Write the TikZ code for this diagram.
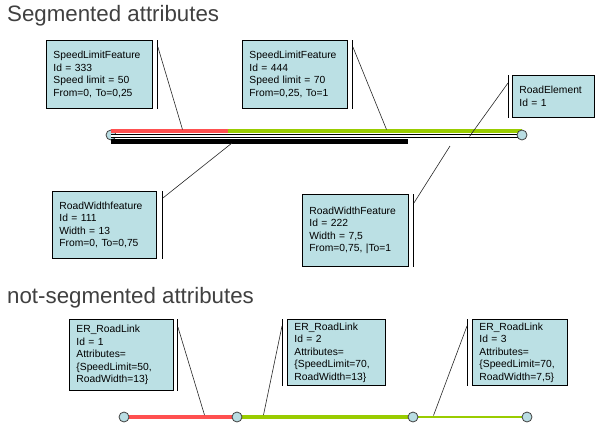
\documentclass[tikz,border=0pt]{standalone}
\usepackage{fontspec}
\setmainfont{Liberation Sans}
\usetikzlibrary{backgrounds}
\definecolor{boxfill}{RGB}{187,224,228}
\definecolor{nodefill}{RGB}{185,221,227}
\definecolor{limitred}{RGB}{255,80,80}
\definecolor{limitgreen}{RGB}{153,204,0}
\definecolor{titlegray}{RGB}{64,64,64}
\tikzset{
	heading/.style={anchor=base west, inner sep=0pt, text=titlegray, font=\fontsize{22.3}{26}\selectfont},
	featbox/.style={draw, fill=boxfill, line width=0.9pt, anchor=north west, inner xsep=7pt, inner ysep=0pt, align=left, font=\fontsize{10.3}{12.5}\selectfont},
	endpt/.style={circle, draw=black!75, fill=nodefill, line width=0.8pt, minimum size=10pt, inner sep=0pt},
	tick/.style={line width=0.9pt},
	leader/.style={line width=0.6pt, black!85}
}
\begin{document}
\begin{tikzpicture}[x=1pt, y=-1pt, line cap=butt]
			\useasboundingbox (0,0) rectangle (595,426);
			\node[heading] (segtitle) at (7,21) {Segmented attributes};
			\node[heading] (nonsegtitle) at (7,303) {not-segmented attributes};
			% segmented road element
			\node[endpt] (rs) at (111,135) {};
			\draw[limitred, line width=3.7pt] (111,131) -- (228,131) coordinate (split);
			\draw[limitgreen, line width=3.7pt] (split) -- (522,131);
			\draw[line width=0.9pt, double=white, double distance=2.6pt] (111,136) -- (522,136);
			\draw[line width=4.5pt] (111,141.5) -- (408,141.5);
			\node[endpt] (re) at (522,135) {};
			\coordinate (p333) at (182.5,129.5);
			\coordinate (p444) at (386.5,129.5);
			\coordinate (pelem) at (469.5,136.5);
			\coordinate (p111) at (232,143);
			\coordinate (p222) at (450,146);
			% feature boxes
			\node[featbox, text width=92pt, minimum height=68pt] (slf1) at (46,40) {SpeedLimitFeature\\Id = 333\\Speed limit = 50\\From=0, To=0,25};
			\node[featbox, text width=91pt, minimum height=68pt] (slf2) at (242,40) {SpeedLimitFeature\\Id = 444\\Speed limit = 70\\From=0,25, To=1};
			\node[featbox, text width=68pt, minimum height=42pt] (elem) at (512,75) {RoadElement\\Id = 1};
			\node[featbox, text width=90pt, minimum height=67pt] (rwf1) at (52,191) {RoadWidthfeature\\Id = 111\\Width = 13\\From=0, To=0,75};
			\node[featbox, text width=92pt, minimum height=72pt] (rwf2) at (302,194) {RoadWidthFeature\\Id = 222\\Width = 7,5\\From=0,75, |To=1};
			\draw[tick] ([xshift=5pt]slf1.north east) -- ([xshift=5pt]slf1.south east);
			\draw[tick] ([xshift=5pt]slf2.north east) -- ([xshift=5pt]slf2.south east);
			\draw[tick] ([xshift=-4pt]elem.north west) -- ([xshift=-4pt]elem.south west);
			\draw[tick] ([xshift=6pt]rwf1.north east) -- ([xshift=6pt]rwf1.south east);
			\draw[tick] ([xshift=5pt]rwf2.north east) -- ([xshift=5pt]rwf2.south east);
			\draw[leader] ([shift={(5,7)}]slf1.north east) -- (p333);
			\draw[leader] ([shift={(5,7)}]slf2.north east) -- (p444);
			\draw[leader] ([shift={(-4,8)}]elem.north west) -- (pelem);
			\draw[leader] ([shift={(6,7)}]rwf1.north east) -- (p111);
			\draw[leader] ([shift={(5,9)}]rwf2.north east) -- (p222);
			% not-segmented road links
			\node[endpt] (k0) at (124,417) {};
			\node[endpt] (k1) at (237,417) {};
			\node[endpt] (k2) at (413,417) {};
			\node[endpt] (k3) at (527,417) {};
			\begin{pgfonlayer}{background}
			\draw[limitred, line width=4.3pt] (k0.center) -- (k1.center);
			\draw[limitgreen, line width=4.3pt] (k1.center) -- (k2.center);
			\draw[limitgreen, line width=2pt] (k2.center) -- (k3.center);
			\end{pgfonlayer}
			\coordinate (q1) at (204.5,415);
			\coordinate (q2) at (263.5,415);
			\coordinate (q3) at (433.5,415.5);
			\node[featbox, text width=90pt, minimum height=71pt] (link1) at (69,319) {ER\_RoadLink\\Id = 1\\Attributes=\\\{SpeedLimit=50,\\RoadWidth=13\}};
			\node[featbox, text width=84pt, minimum height=66pt] (link2) at (287,319) {ER\_RoadLink\\Id = 2\\Attributes=\\\{SpeedLimit=70,\\RoadWidth=13\}};
			\node[featbox, text width=81pt, minimum height=66pt] (link3) at (472,319) {ER\_RoadLink\\Id = 3\\Attributes=\\\{SpeedLimit=70,\\RoadWidth=7,5\}};
			\draw[tick] ([xshift=4pt]link1.north east) -- ([xshift=4pt]link1.south east);
			\draw[tick] ([xshift=-5pt]link2.north west) -- ([xshift=-5pt]link2.south west);
			\draw[tick] ([xshift=-5pt]link3.north west) -- ([xshift=-5pt]link3.south west);
			\draw[leader] ([shift={(4,8)}]link1.north east) -- (q1);
			\draw[leader] ([shift={(-5,7)}]link2.north west) -- (q2);
			\draw[leader] ([shift={(-5,7)}]link3.north west) -- (q3);
\end{tikzpicture}
\end{document}
